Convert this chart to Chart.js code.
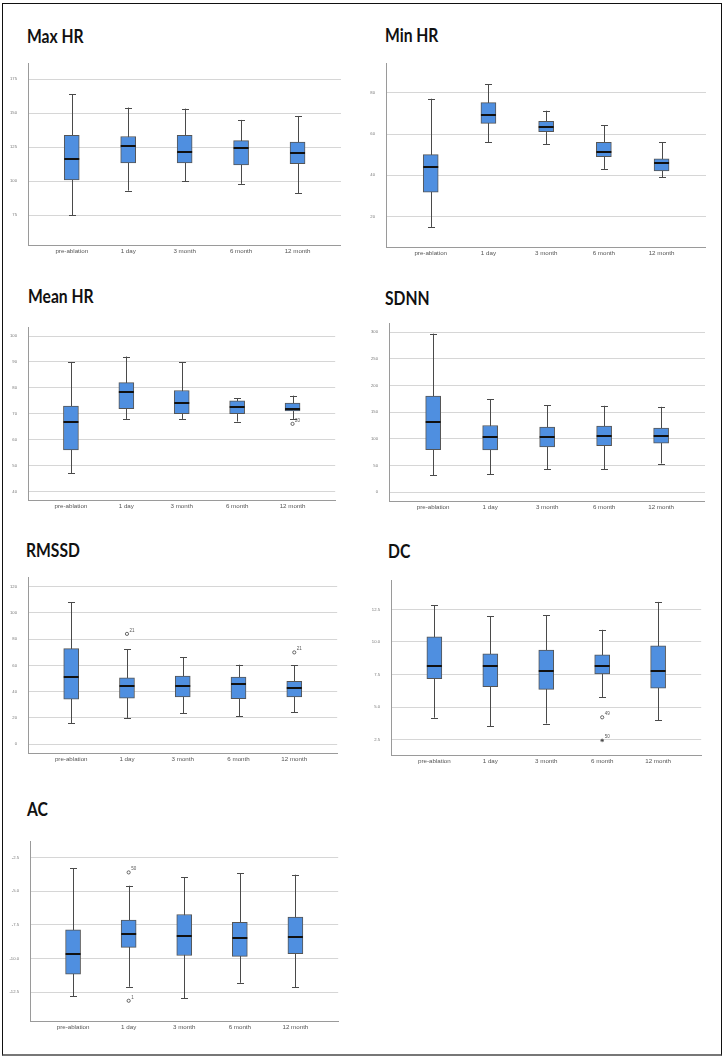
<!DOCTYPE html>
<html>
<head>
<meta charset="utf-8">
<script src="https://cdn.jsdelivr.net/npm/chart.js@4.4.1/dist/chart.umd.min.js"></script>
<style>
  body { margin: 0; background: #fff; width: 727px; height: 1062px; position: relative; overflow: hidden; }
  #frame { position: absolute; left: 2px; top: 3px; width: 718px; height: 1050px; border: 1.5px solid #111; border-bottom: 2px solid #777; }
  .title { position: absolute; font-family: Lato, "Open Sans", sans-serif; font-weight: 700; font-size: 18px; line-height: 18px; color: #111; white-space: nowrap; transform: scaleX(0.87); transform-origin: left top; }
  canvas { position: absolute; }
</style>
</head>
<body>
<div id="frame"></div>

<script>
const categories = ['pre-ablation', '1 day', '3 month', '6 month', '12 month'];

// Max HR
const maxHrLow = [75, 93, 100, 98, 91];
const maxHrQ1 = [101, 113.5, 113.5, 112, 112.8];
const maxHrMedian = [116.5, 125.7, 121.8, 124.5, 120.4];
const maxHrQ3 = [133.8, 132.9, 133.8, 129.9, 128.7];
const maxHrHigh = [164, 154.2, 153.4, 145.1, 148];
const maxHrTicks = [75, 100, 125, 150, 175];

// Min HR
const minHrLow = [15, 56, 55, 43.1, 39];
const minHrQ1 = [31.9, 65.2, 61.1, 49, 42.1];
const minHrMedian = [44, 69.2, 63.2, 51.1, 46];
const minHrQ3 = [50, 75.2, 66.1, 56, 48];
const minHrHigh = [77.1, 84.2, 71.3, 64.2, 56];
const minHrTicks = [20, 40, 60, 80];

// Mean HR
const meanHrLow = [47, 68, 68, 67, 68];
const meanHrQ1 = [56, 72, 70, 70, 71.1];
const meanHrMedian = [67, 78.6, 74.1, 72.5, 72];
const meanHrQ3 = [73, 82, 79, 75, 74.1];
const meanHrHigh = [90, 92.1, 90, 76, 77];
const meanHrOutliers = [[4, 66.1, '20', 'circle']];
const meanHrTicks = [40, 50, 60, 70, 80, 90, 100];

// SDNN
const sdnnLow = [31.9, 33.8, 43.1, 43.1, 53.8];
const sdnnQ1 = [80, 79.4, 85, 87.5, 91.9];
const sdnnMedian = [131.3, 103.1, 104.4, 106.3, 105.6];
const sdnnQ3 = [180, 125, 121.9, 123.8, 120];
const sdnnHigh = [296.9, 174.4, 163.1, 161.9, 160];
const sdnnTicks = [0, 50, 100, 150, 200, 250, 300];

// RMSSD
const rmssdLow = [16, 20, 23.7, 21.2, 24.2];
const rmssdQ1 = [34.3, 35.1, 36, 34.6, 36];
const rmssdMedian = [51.1, 44.4, 44.2, 45.7, 42.7];
const rmssdQ3 = [72.8, 50.6, 51.9, 51.1, 47.9];
const rmssdHigh = [107.9, 72.3, 66.4, 60.5, 60];
const rmssdOutliers = [[1, 84, '21', 'circle'], [4, 69.9, '21', 'circle']];
const rmssdTicks = [0, 20, 40, 60, 80, 100, 120];

// DC
const dcLow = [4.19, 3.52, 3.74, 5.78, 3.99];
const dcQ1 = [7.18, 6.58, 6.36, 7.55, 6.46];
const dcMedian = [8.17, 8.17, 7.75, 8.17, 7.8];
const dcQ3 = [10.39, 9.09, 9.37, 9.02, 9.71];
const dcHigh = [12.82, 11.98, 12.05, 10.93, 13.07];
const dcOutliers = [[3, 4.22, '49', 'circle'], [3, 2.45, '50', 'star']];
const dcTicks = [2.5, 5, 7.5, 10, 12.5];

// AC
const acLow = [-12.79, -12.09, -12.93, -11.8, -12.14];
const acQ1 = [-11.15, -9.17, -9.77, -9.84, -9.63];
const acMedian = [-9.65, -8.15, -8.35, -8.44, -8.37];
const acQ3 = [-7.86, -7.14, -6.73, -7.31, -6.92];
const acHigh = [-3.32, -4.6, -3.97, -3.66, -3.78];
const acOutliers = [[1, -3.61, '50', 'circle'], [1, -13.13, '1', 'circle']];
const acTicks = [-12.5, -10, -7.5, -5, -2.5];

// panel layout: axis box in page pixels + value range
const panels = [
  { title: 'Max HR', tx: 27, ty: 27, left: 28, top: 63, right: 341, bottom: 245, min: 53, max: 187, dec: 0,
    low: maxHrLow, q1: maxHrQ1, med: maxHrMedian, q3: maxHrQ3, high: maxHrHigh, ticks: maxHrTicks, out: [] },
  { title: 'Min HR', tx: 385, ty: 26, left: 386, top: 63, right: 706, bottom: 247, min: 5.3, max: 94.4, dec: 0,
    low: minHrLow, q1: minHrQ1, med: minHrMedian, q3: minHrQ3, high: minHrHigh, ticks: minHrTicks, out: [] },
  { title: 'Mean HR', tx: 28, ty: 287, left: 28, top: 323, right: 340, bottom: 500, min: 36.7, max: 103.2, dec: 0,
    low: meanHrLow, q1: meanHrQ1, med: meanHrMedian, q3: meanHrQ3, high: meanHrHigh, ticks: meanHrTicks, out: meanHrOutliers },
  { title: 'SDNN', tx: 385, ty: 289, left: 389, top: 323, right: 705, bottom: 501, min: -16.3, max: 316.9, dec: 0,
    low: sdnnLow, q1: sdnnQ1, med: sdnnMedian, q3: sdnnQ3, high: sdnnHigh, ticks: sdnnTicks, out: [] },
  { title: 'RMSSD', tx: 26, ty: 541, left: 28, top: 573, right: 342, bottom: 753, min: -6.7, max: 126.7, dec: 0,
    low: rmssdLow, q1: rmssdQ1, med: rmssdMedian, q3: rmssdQ3, high: rmssdHigh, ticks: rmssdTicks, out: rmssdOutliers },
  { title: 'DC', tx: 388, ty: 542, left: 391, top: 576, right: 706, bottom: 755, min: 1.33, max: 14.69, dec: 1,
    low: dcLow, q1: dcQ1, med: dcMedian, q3: dcQ3, high: dcHigh, ticks: dcTicks, out: dcOutliers },
  { title: 'AC', tx: 27, ty: 800, left: 30, top: 837, right: 343, bottom: 1021, min: -14.63, max: -1.34, dec: 1,
    low: acLow, q1: acQ1, med: acMedian, q3: acQ3, high: acHigh, ticks: acTicks, out: acOutliers }
];

const YW = 30;   // y-axis strip width
const XH = 16;   // x-axis strip height

// whiskers, caps, medians and outlier ids drawn through the chart scales
const boxPlugin = {
  id: 'boxParts',
  beforeDatasetsDraw(chart, args, opts) {
    const { ctx, scales: { x, y } } = chart;
    ctx.save();
    ctx.strokeStyle = '#4a4a4a';
    ctx.lineWidth = 1;
    opts.low.forEach((lo, i) => {
      const px = Math.round(x.getPixelForValue(i)) + 0.5;
      ctx.beginPath();
      ctx.moveTo(px, y.getPixelForValue(lo));
      ctx.lineTo(px, y.getPixelForValue(opts.high[i]));
      [lo, opts.high[i]].forEach(v => {
        const py = Math.round(y.getPixelForValue(v)) + 0.5;
        ctx.moveTo(px - 3.5, py);
        ctx.lineTo(px + 3.5, py);
      });
      ctx.stroke();
    });
    ctx.restore();
  },
  afterDatasetsDraw(chart, args, opts) {
    const { ctx, scales: { x, y } } = chart;
    const bars = chart.getDatasetMeta(0).data;
    ctx.save();
    ctx.strokeStyle = '#111';
    ctx.lineWidth = 2;
    opts.med.forEach((m, i) => {
      const px = x.getPixelForValue(i);
      const w = bars[i].width / 2;
      const py = Math.round(y.getPixelForValue(m));
      ctx.beginPath();
      ctx.moveTo(px - w, py);
      ctx.lineTo(px + w, py);
      ctx.stroke();
    });
    ctx.fillStyle = '#555';
    ctx.font = '4.5px "Liberation Sans", Arial, sans-serif';
    ctx.textBaseline = 'middle';
    opts.out.forEach(o => {
      ctx.fillText(o[2], x.getPixelForValue(o[0]) + 2.5, y.getPixelForValue(o[1]) - 3.5);
    });
    ctx.restore();
  }
};

function makePanel(p) {
  const t = document.createElement('div');
  t.className = 'title';
  t.textContent = p.title;
  t.style.left = p.tx + 'px';
  t.style.top = p.ty + 'px';
  document.body.appendChild(t);

  const cv = document.createElement('canvas');
  const w = YW + (p.right - p.left);
  const h = (p.bottom - p.top) + XH;
  cv.width = w;
  cv.height = h;
  cv.style.left = (p.left - YW) + 'px';
  cv.style.top = p.top + 'px';
  cv.style.width = w + 'px';
  cv.style.height = h + 'px';
  document.body.appendChild(cv);

  new Chart(cv.getContext('2d'), {
    type: 'bar',
    data: {
      datasets: [
        {
          type: 'bar',
          data: categories.map((c, i) => ({ x: i, y: [p.q1[i], p.q3[i]] })),
          backgroundColor: '#4f8fe0',
          borderColor: '#555',
          borderWidth: 1,
          borderSkipped: false,
          barThickness: 15
        },
        {
          type: 'scatter',
          data: p.out.map(o => ({ x: o[0], y: o[1] })),
          pointStyle: p.out.map(o => o[3]),
          radius: p.out.map(o => (o[3] === 'star' ? 1.8 : 1.6)),
          borderColor: '#444',
          backgroundColor: '#fff',
          borderWidth: 0.8
        }
      ]
    },
    options: {
      responsive: false,
      animation: false,
      events: [],
      devicePixelRatio: 1,
      layout: { padding: 0 },
      plugins: {
        legend: { display: false },
        tooltip: { enabled: false },
        boxParts: { low: p.low, high: p.high, med: p.med, out: p.out }
      },
      scales: {
        x: {
          type: 'linear',
          min: -0.775,
          max: 4.77,
          offset: false,
          grid: { display: false, drawTicks: false, offset: false },
          border: { display: true, color: '#9a9a9a', width: 1 },
          afterBuildTicks: s => { s.ticks = categories.map((c, i) => ({ value: i })); },
          afterFit: s => { s.height = XH; s.paddingLeft = 0; s.paddingRight = 0; },
          ticks: {
            autoSkip: false,
            maxRotation: 0,
            padding: 3,
            color: '#555',
            font: { family: '"Liberation Sans", Arial, sans-serif', size: 6.2 },
            callback: v => categories[v]
          }
        },
        y: {
          type: 'linear',
          min: p.min,
          max: p.max,
          beginAtZero: false,
          grid: { color: '#d6d6d6', lineWidth: 1, drawTicks: false },
          border: { display: true, color: '#9a9a9a', width: 1 },
          afterBuildTicks: s => { s.ticks = p.ticks.map(v => ({ value: v })); },
          afterFit: s => { s.width = YW; s.paddingTop = 0; s.paddingBottom = 0; },
          ticks: {
            padding: 11,
            color: '#777',
            font: { family: '"Liberation Sans", Arial, sans-serif', size: 4.2 },
            callback: v => v.toFixed(p.dec)
          }
        }
      }
    },
    plugins: [boxPlugin]
  });
}

document.addEventListener('DOMContentLoaded', () => panels.forEach(makePanel));
</script>
</body>
</html>
